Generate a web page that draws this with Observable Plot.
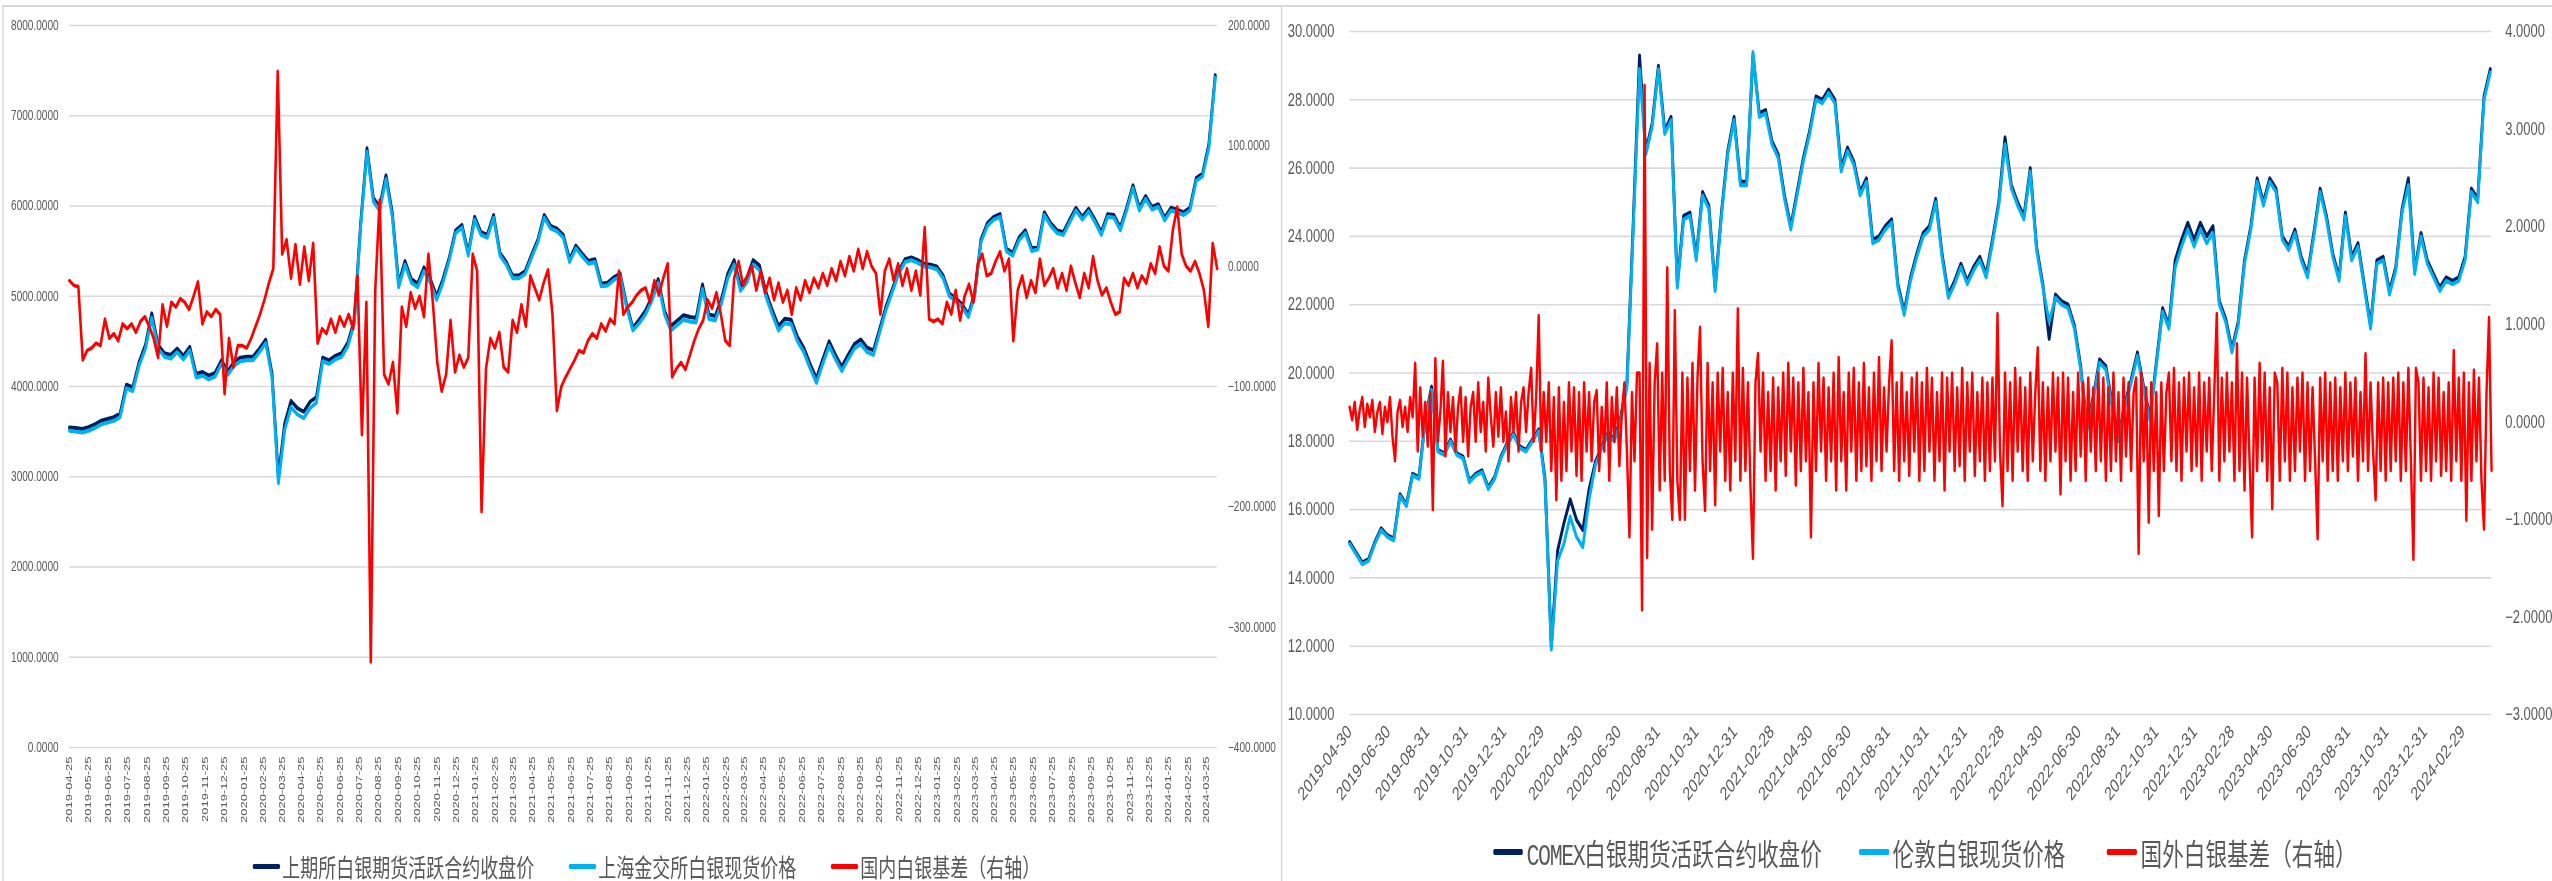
<!DOCTYPE html>
<html><head><meta charset="utf-8">
<script src="https://cdn.jsdelivr.net/npm/d3@7"></script>
<script src="https://cdn.jsdelivr.net/npm/@observablehq/plot@0.6"></script>
<style>
html,body{margin:0;padding:0;background:#fff;width:2552px;height:881px;overflow:hidden}
#stage{position:absolute;left:0;top:0;width:3545px;height:881px;transform:scaleX(0.72);transform-origin:0 0}
.panel{position:absolute;top:0}
.rule{position:absolute;background:#d9d9d9}
.item{position:absolute;display:flex;align-items:center;white-space:nowrap;color:#595959;font-family:"Noto Sans CJK SC","Noto Sans",sans-serif}
.sw{display:inline-block;border-radius:2px}
.mono{font-family:"Liberation Mono",monospace;letter-spacing:-2px}
</style></head>
<body><div id="stage"></div>
<script>
// ---------------- DATA ----------------
// Left chart: 上期所 / 上海金交所 prices (10-day samples from 2019-04-25), domestic basis (7-day samples)
const leftStartDate = "2019-04-25";
const leftPriceStepDays = 10;
const leftBasisStepDays = 7;

const shfeFutures = [
3545,3540,3530,3550,3580,3620,3640,3660,3700,4020,
3990,4270,4460,4810,4460,4370,4350,4420,4340,4440,
4140,4160,4120,4150,4290,4170,4270,4320,4330,4330,
4420,4520,4140,3000,3590,3840,3760,3720,3830,3880,
4320,4290,4340,4370,4490,4740,5810,6640,6090,5990,
6340,5920,5140,5390,5190,5140,5320,5190,5000,5190,
5430,5730,5790,5480,5880,5710,5680,5900,5480,5380,
5230,5230,5280,5460,5630,5900,5780,5750,5680,5410,
5560,5470,5390,5410,5140,5150,5210,5250,4910,4650,
4740,4840,4990,5190,4840,4670,4730,4790,4770,4760,
5130,4800,4780,4970,5250,5400,5110,5200,5400,5340,
5050,4850,4670,4750,4740,4550,4430,4250,4090,4300,
4500,4350,4220,4350,4470,4520,4430,4400,4640,4890,
5080,5280,5410,5430,5400,5360,5350,5330,5230,5030,
4980,4910,4800,5030,5630,5810,5880,5910,5530,5480,
5650,5730,5530,5550,5930,5810,5730,5710,5850,5980,
5880,5970,5850,5710,5910,5900,5760,5980,6230,5980,
6110,5990,6020,5870,5980,5960,5930,5980,6310,6360,
6690,7450];

const sgeSpot = [
3510,3500,3490,3510,3540,3580,3600,3620,3660,3980,
3950,4230,4420,4760,4420,4330,4310,4380,4300,4400,
4100,4120,4080,4110,4250,4130,4230,4280,4290,4290,
4380,4480,4100,2930,3520,3770,3690,3650,3760,3820,
4280,4250,4300,4330,4450,4700,5770,6600,6050,5950,
6300,5880,5100,5350,5150,5100,5280,5150,4960,5150,
5400,5700,5760,5450,5850,5680,5650,5870,5450,5350,
5200,5200,5250,5430,5600,5870,5750,5720,5650,5380,
5530,5440,5360,5380,5110,5120,5180,5220,4880,4620,
4700,4800,4950,5150,4800,4620,4680,4740,4720,4710,
5080,4750,4730,4920,5200,5350,5060,5150,5350,5290,
5000,4800,4620,4700,4690,4500,4380,4200,4040,4250,
4450,4300,4170,4300,4420,4470,4380,4350,4600,4850,
5050,5250,5380,5400,5370,5330,5320,5300,5200,5000,
4950,4880,4770,5000,5600,5780,5850,5880,5500,5450,
5620,5700,5500,5520,5900,5780,5700,5680,5820,5950,
5850,5940,5820,5680,5880,5870,5730,5950,6200,5950,
6080,5960,5990,5840,5950,5930,5900,5950,6280,6330,
6650,7420];

const domesticBasis = [
-12,-16,-17,-78,-70,-68,-64,-66,-44,-60,-56,-62,-48,
-52,-48,-55,-46,-42,-50,-60,-76,-32,-50,-30,-34,-27,
-30,-36,-25,-13,-48,-38,-42,-36,-40,-106,-60,-84,-66,
-66,-68,-60,-50,-40,-28,-14,-2,162,10,22,-10,18,
-15,16,-12,19,-64,-52,-56,-44,-55,-42,-50,-40,-52,
-8,-140,-30,-329,-20,55,-90,-98,-80,-122,-34,-50,-22,
-35,-25,-42,10,-30,-80,-104,-90,-45,-88,-74,-84,-76,
10,-4,-204,-85,-60,-68,-55,-84,-88,-45,-55,-32,-50,
-8,-18,-28,-14,-3,-40,-120,-100,-92,-85,-78,-70,-72,
-62,-56,-60,-48,-54,-44,-48,-4,-40,-34,-30,-24,-20,
-18,-30,-12,-24,-10,2,-92,-85,-80,-86,-74,-62,-52,
-45,-28,-35,-22,-40,-62,-66,-10,4,-16,-8,0,-20,
-4,-22,-10,-28,-14,-30,-20,-40,-18,-28,-12,-22,-10,
-18,-6,-16,-2,-12,4,-8,8,-4,14,-2,12,0,
-6,-40,-4,6,-12,2,-16,-2,-20,-4,-24,32,-44,
-46,-44,-48,-30,-40,-20,-45,-25,-15,-30,2,10,-8,
-6,4,12,-4,6,-62,-20,-8,-26,-12,-22,6,-16,
-10,-2,-18,-6,-20,0,-14,-26,-6,-18,8,-12,-24,
-18,-30,-40,-38,-10,-16,-6,-18,-8,-14,2,-6,16,
0,-4,30,49,10,0,-4,4,-6,-20,-50,19,-2];

// Right chart: COMEX / London prices (10-day samples from 2019-04-30), foreign basis (4-day samples)
const rightStartDate = "2019-04-30";
const rightPriceStepDays = 10;
const rightBasisStepDays = 4;

const comexFutures = [
15.05,14.75,14.45,14.55,15.05,15.45,15.25,15.15,16.45,16.15,
17.05,16.95,18.65,19.6,17.75,17.65,18.05,17.65,17.55,16.85,
17.05,17.15,16.65,16.95,17.55,17.95,18.25,17.85,17.75,18.05,
18.35,16.9,12.0,14.8,15.6,16.3,15.7,15.4,16.6,17.4,
17.85,18.25,18.05,18.7,19.7,24.4,29.3,26.5,27.3,29.0,
27.1,27.5,22.6,24.6,24.7,23.4,25.3,24.9,22.5,24.7,
26.5,27.5,25.6,25.6,29.3,27.6,27.7,26.8,26.4,25.2,
24.3,25.3,26.3,27.1,28.1,28.0,28.3,28.0,26.0,26.6,
26.2,25.3,25.7,23.9,24.0,24.3,24.5,22.6,21.8,22.8,
23.5,24.1,24.3,25.1,23.5,22.3,22.7,23.2,22.7,23.1,
23.4,22.9,23.9,25.0,26.9,25.5,25.0,24.6,26.0,23.7,
22.6,21.0,22.3,22.1,22.0,21.4,20.2,18.4,19.3,20.4,
20.2,19.1,18.1,19.1,19.8,20.6,19.6,18.7,20.3,21.9,
21.4,23.3,23.9,24.4,23.9,24.4,24.0,24.3,22.1,21.6,
20.7,21.5,23.3,24.3,25.7,25.0,25.7,25.4,24.0,23.7,
24.2,23.4,22.9,24.1,25.4,24.6,23.5,22.8,24.7,23.4,
23.8,22.6,21.4,23.3,23.4,22.4,23.1,24.8,25.7,23.0,
24.1,23.3,22.9,22.5,22.8,22.7,22.8,23.4,25.4,25.1,
28.1,28.9];

const londonSpot = [
15.0,14.7,14.4,14.5,15.0,15.4,15.2,15.1,16.4,16.1,
17.0,16.9,18.6,19.5,17.7,17.6,18.0,17.6,17.5,16.8,
17.0,17.1,16.6,16.9,17.5,17.9,18.2,17.8,17.7,18.0,
18.3,16.8,11.9,14.5,15.0,15.8,15.2,14.9,16.3,17.3,
17.8,18.2,18.0,18.6,19.6,24.2,28.9,26.4,27.2,28.9,
27.0,27.4,22.5,24.5,24.6,23.3,25.2,24.8,22.4,24.6,
26.4,27.4,25.5,25.5,29.4,27.5,27.6,26.7,26.3,25.1,
24.2,25.2,26.2,27.0,28.0,27.9,28.2,27.9,25.9,26.5,
26.1,25.2,25.6,23.8,23.9,24.2,24.4,22.5,21.7,22.7,
23.4,24.0,24.2,25.0,23.4,22.2,22.6,23.1,22.6,23.0,
23.3,22.8,23.8,24.9,26.7,25.4,24.9,24.5,25.9,23.6,
22.5,21.5,22.2,22.0,21.9,21.3,20.1,18.3,19.2,20.3,
20.1,19.0,18.0,19.0,19.7,20.5,19.5,18.6,20.2,21.8,
21.3,23.1,23.7,24.2,23.7,24.2,23.8,24.1,22.0,21.5,
20.6,21.4,23.2,24.2,25.6,24.9,25.6,25.3,23.9,23.6,
24.1,23.3,22.8,24.0,25.3,24.5,23.4,22.7,24.6,23.3,
23.7,22.5,21.3,23.2,23.3,22.3,23.0,24.7,25.5,22.9,
24.0,23.2,22.8,22.4,22.7,22.6,22.7,23.3,25.3,25.0,
28.0,28.8];

const foreignBasis = [
0.15,0.02,0.2,-0.08,0.12,0.25,-0.05,0.18,0.05,0.22,-0.1,0.1,0.2,-0.12,0.15,0.0,0.25,-0.15,-0.4,0.1,0.22,-0.05,0.15,
-0.1,0.25,0.05,0.6,-0.3,0.35,-0.15,0.2,-0.25,0.3,-0.9,0.65,-0.2,0.1,0.62,-0.35,0.3,-0.1,0.25,-0.3,0.15,0.35,-0.2,
0.25,-0.35,0.15,0.3,-0.2,0.4,-0.1,0.2,-0.3,0.45,0.05,-0.25,0.3,-0.15,0.35,-0.2,0.1,-0.4,0.25,-0.1,0.3,-0.3,0.2,
0.35,-0.1,0.3,0.55,-0.2,0.25,1.09,-0.3,0.3,-0.2,0.4,-0.5,0.25,-0.8,0.35,-0.6,0.2,-0.5,0.4,-0.3,0.35,-0.55,0.3,
-0.6,0.4,-0.3,0.3,-0.4,0.2,0.32,-0.5,0.15,-0.3,0.4,-0.6,0.25,-0.2,0.35,-0.45,0.1,0.4,-0.3,-1.18,0.3,-0.4,0.5,
0.5,-1.93,3.45,-1.39,0.6,-1.1,0.4,0.8,-0.7,0.5,-0.6,1.58,-0.5,-1.0,1.14,-0.6,-1.0,0.5,-1.0,0.45,-0.5,0.6,-0.7,
0.45,0.97,-0.4,-0.91,0.6,-0.5,0.4,-0.85,0.5,-0.3,0.55,-0.6,0.3,-0.7,0.5,-0.4,1.16,-0.6,0.55,-0.5,0.4,-0.65,-1.40,
0.4,0.7,-0.3,0.5,-0.6,0.3,-0.5,0.45,-0.7,0.35,-0.4,0.5,-0.55,0.6,-0.3,0.45,-0.65,0.4,-0.5,0.55,-0.4,0.3,-1.18,
0.4,-0.5,0.6,-0.3,0.45,-0.6,0.35,-0.4,0.5,-0.7,0.66,-0.4,0.3,-0.7,0.5,-0.3,0.55,-0.6,0.4,-0.5,0.6,-0.45,0.35,
-0.6,0.5,-0.4,0.66,-0.5,0.35,-0.3,0.4,0.83,-0.5,0.4,-0.6,0.5,-0.4,0.3,-0.55,0.45,-0.3,0.5,-0.6,0.4,-0.5,0.55,
-0.3,0.45,-0.6,0.3,-0.4,0.5,-0.7,0.45,-0.3,0.5,-0.5,0.35,-0.45,0.55,-0.6,0.4,-0.3,0.5,-0.55,0.3,-0.4,0.45,-0.6,
0.4,-0.5,0.45,-0.4,1.11,-0.3,-0.86,0.5,-0.5,0.4,-0.6,0.55,-0.3,0.45,-0.5,0.35,-0.6,0.5,-0.4,0.3,0.76,-0.5,0.4,
-0.6,0.35,-0.4,0.5,-0.3,0.45,-0.74,0.5,-0.4,0.45,-0.6,0.3,-0.5,0.5,-0.35,0.4,-0.6,0.45,-0.3,0.35,-0.5,0.5,-0.4,
0.45,-0.6,0.35,-0.5,0.5,-0.4,0.3,-0.6,0.45,-0.35,0.4,-0.5,0.3,0.45,-1.35,0.5,-0.4,0.35,-1.03,0.4,-0.5,0.3,-0.96,
0.4,-0.5,0.3,0.5,-0.4,0.55,-0.5,0.4,-0.6,0.45,-0.3,0.5,-0.5,0.35,-0.45,0.5,-0.6,0.4,-0.3,0.45,-0.5,0.3,1.11,
-0.6,0.45,-0.4,0.5,-0.3,0.4,-0.6,0.8,-0.5,0.5,-0.7,0.45,-0.4,-1.18,0.45,-0.5,0.6,-0.4,0.5,-0.6,0.35,-0.89,0.5,
0.4,-0.6,0.55,-0.4,0.5,-0.6,0.35,-0.5,0.45,-0.3,0.5,-0.6,0.4,-0.5,0.35,-0.4,-1.2,0.45,-0.4,0.5,-0.6,0.4,-0.5,
0.45,-0.6,0.35,-0.4,0.5,-0.5,0.4,-0.35,0.45,-0.6,0.3,-0.4,0.7,-0.5,0.4,-0.3,-0.8,0.4,-0.5,0.45,-0.6,0.4,-0.5,
0.45,-0.4,0.5,-0.6,0.4,-0.5,0.55,-0.4,-1.41,0.55,0.4,-0.6,0.45,-0.5,0.35,-0.6,0.5,-0.4,0.45,-0.55,0.3,-0.5,0.4,
-0.6,0.73,-0.4,0.45,-0.6,0.5,-1.01,0.4,-0.6,0.53,-0.4,0.45,-0.6,-1.1,0.3,1.07,-0.5];

// Axis ticks / labels
const leftAxisTicks = [0,1000,2000,3000,4000,5000,6000,7000,8000];
const leftRightAxisTicks = [-400,-300,-200,-100,0,100,200];
const rightAxisTicks = [10,12,14,16,18,20,22,24,26,28,30];
const rightRightAxisTicks = [-3,-2,-1,0,1,2,3,4];
const leftDateTicks = [
"2019-04-25","2019-05-25","2019-06-25","2019-07-25","2019-08-25","2019-09-25","2019-10-25","2019-11-25","2019-12-25",
"2020-01-25","2020-02-25","2020-03-25","2020-04-25","2020-05-25","2020-06-25","2020-07-25","2020-08-25","2020-09-25","2020-10-25","2020-11-25","2020-12-25",
"2021-01-25","2021-02-25","2021-03-25","2021-04-25","2021-05-25","2021-06-25","2021-07-25","2021-08-25","2021-09-25","2021-10-25","2021-11-25","2021-12-25",
"2022-01-25","2022-02-25","2022-03-25","2022-04-25","2022-05-25","2022-06-25","2022-07-25","2022-08-25","2022-09-25","2022-10-25","2022-11-25","2022-12-25",
"2023-01-25","2023-02-25","2023-03-25","2023-04-25","2023-05-25","2023-06-25","2023-07-25","2023-08-25","2023-09-25","2023-10-25","2023-11-25","2023-12-25",
"2024-01-25","2024-02-25","2024-03-25"];
const rightDateTicks = [
"2019-04-30","2019-06-30","2019-08-31","2019-10-31","2019-12-31",
"2020-02-29","2020-04-30","2020-06-30","2020-08-31","2020-10-31","2020-12-31",
"2021-02-28","2021-04-30","2021-06-30","2021-08-31","2021-10-31","2021-12-31",
"2022-02-28","2022-04-30","2022-06-30","2022-08-31","2022-10-31","2022-12-31",
"2023-02-28","2023-04-30","2023-06-30","2023-08-31","2023-10-31","2023-12-31",
"2024-02-29"];
const leftLegend = ["上期所白银期货活跃合约收盘价","上海金交所白银现货价格","国内白银基差（右轴）"];
const rightLegend = ["COMEX白银期货活跃合约收盘价","伦敦白银现货价格","国外白银基差（右轴）"];

// ---------------- BUILD ----------------
const S = 0.72;                 // horizontal squeeze of the whole picture
const U = x => x / S;           // final px -> unsqueezed px
const DAY = 864e5;
const parse = d3.utcParse("%Y-%m-%d");
const fmt4 = d3.format(".4f");
const NAVY = "#002060", CYAN = "#00B0F0", RED = "#FF0000", GREY = "#595959";

function toRows(arr, start, step) {
  const t0 = parse(start).getTime();
  return arr.map((v, i) => ({date: new Date(t0 + i * step * DAY), value: v}));
}
const stage = document.getElementById("stage");
function rule(l, t, w, h) { const d = document.createElement("div"); d.className = "rule"; Object.assign(d.style, {left: l + "px", top: t + "px", width: w + "px", height: h + "px"}); stage.appendChild(d); }

// chart frames
rule(U(2), 5, 2, 881);
rule(U(1281), 5, 2, 881);
rule(U(2), 5, 3545, 1.5);

function panel({left, width, height, mt, mr, mb, ml, yDom, y2Dom, yTicks, y2Ticks, dateTicks, start, end, fs, padL, padR, xRot, xFs, xPad, series, redW}) {
  const [a, b] = yDom, [c, d] = y2Dom;
  const to1 = v => a + (v - c) * (b - a) / (d - c);
  const from1 = v => c + (v - a) * (d - c) / (b - a);
  const p = Plot.plot({
    width, height, marginTop: mt, marginRight: mr, marginBottom: mb, marginLeft: ml,
    style: {fontFamily: "'Liberation Sans', Arial, sans-serif", fontSize: fs + "px", color: GREY, background: "transparent", overflow: "visible"},
    x: {type: "utc", domain: [parse(start), end]},
    y: {domain: yDom},
    marks: [
      Plot.gridY(yTicks, {stroke: "#d9d9d9", strokeOpacity: 1, strokeWidth: 1.6}),
      Plot.axisY(yTicks, {anchor: "left", tickSize: 0, tickPadding: padL, tickFormat: fmt4, label: null, fontSize: fs, fill: GREY}),
      Plot.axisY(y2Ticks.map(to1), {anchor: "right", tickSize: 0, tickPadding: padR, tickFormat: v => fmt4(Math.round(from1(v) * 1e4) / 1e4), label: null, fontSize: fs, fill: GREY}),
      Plot.axisX(dateTicks.map(parse), {anchor: "bottom", tickSize: 0, tickPadding: xPad, tickRotate: xRot, tickFormat: d3.utcFormat("%Y-%m-%d"), label: null, fontSize: xFs, fill: GREY}),
      Plot.lineY(series[0], {x: "date", y: "value", stroke: NAVY, strokeWidth: 4, strokeLinejoin: "round"}),
      Plot.lineY(series[1], {x: "date", y: "value", stroke: CYAN, strokeWidth: 4, strokeLinejoin: "round"}),
      Plot.lineY(series[2], {x: "date", y: r => to1(r.value), stroke: RED, strokeWidth: redW, strokeLinejoin: "round"})
    ]
  });
  p.classList.add("panel");
  p.style.left = left + "px";
  stage.appendChild(p);
}

// left chart
const lBasis = toRows(domesticBasis, leftStartDate, leftBasisStepDays);
panel({
  left: 0, width: 1778, height: 840, mt: 25, mr: 88, mb: 93, ml: 96,
  yDom: [0, 8000], y2Dom: [-400, 200], yTicks: leftAxisTicks, y2Ticks: leftRightAxisTicks,
  dateTicks: leftDateTicks, start: leftStartDate, end: lBasis[lBasis.length - 1].date,
  fs: 14, padL: 15, padR: 15, xRot: -90, xFs: 13, xPad: 9, redW: 3.6,
  series: [toRows(shfeFutures, leftStartDate, leftPriceStepDays), toRows(sgeSpot, leftStartDate, leftPriceStepDays), lBasis]
});

// right chart
const rBasis = toRows(foreignBasis, rightStartDate, rightBasisStepDays);
panel({
  left: 1778, width: 1767, height: 840, mt: 31, mr: 85, mb: 126, ml: 96,
  yDom: [10, 30], y2Dom: [-3, 4], yTicks: rightAxisTicks, y2Ticks: rightRightAxisTicks,
  dateTicks: rightDateTicks, start: rightStartDate, end: rBasis[rBasis.length - 1].date,
  fs: 18, padL: 21, padR: 19, xRot: -45, xFs: 19, xPad: 14, redW: 3.4,
  series: [toRows(comexFutures, rightStartDate, rightPriceStepDays), toRows(londonSpot, rightStartDate, rightPriceStepDays), rBasis]
});

// legends (HTML, below the charts)
function legendItem(x, top, lh, color, sw, thick, fs, text, gap) {
  const d = document.createElement("div");
  d.className = "item";
  Object.assign(d.style, {left: U(x) + "px", top: top + "px", height: lh + "px", fontSize: fs + "px"});
  const m = document.createElement("span");
  m.className = "sw";
  Object.assign(m.style, {width: U(sw) + "px", height: thick + "px", background: color, marginRight: gap + "px"});
  d.appendChild(m);
  const t = document.createElement("span");
  const mm = /^([A-Z]+)(.*)$/.exec(text);
  if (mm) { const a = document.createElement("span"); a.className = "mono"; a.textContent = mm[1]; t.appendChild(a); t.appendChild(document.createTextNode(mm[2])); }
  else t.textContent = text;
  d.appendChild(t);
  stage.appendChild(d);
}
const cols = [NAVY, CYAN, RED];
[253, 569, 831].forEach((x, i) => legendItem(x, 850, 32, cols[i], 27, 5, 25, leftLegend[i], 3));
[1493, 1859, 2107].forEach((x, i) => legendItem(x, 834, 36, cols[i], 30, 6, 30, rightLegend[i], 5));
</script></body></html>
